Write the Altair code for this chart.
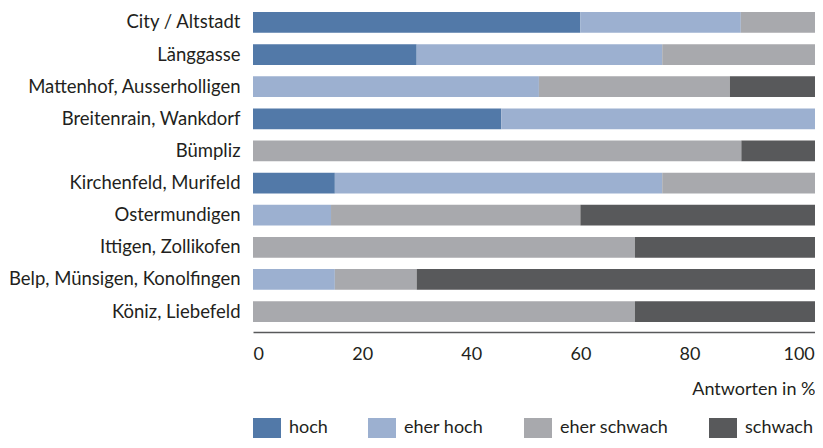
import altair as alt
import pandas as pd

districts = [
    "City / Altstadt",
    "Länggasse",
    "Mattenhof, Ausserholligen",
    "Breitenrain, Wankdorf",
    "Bümpliz",
    "Kirchenfeld, Murifeld",
    "Ostermundigen",
    "Ittigen, Zollikofen",
    "Belp, Münsigen, Konolfingen",
    "Köniz, Liebefeld",
]
categories = ["hoch", "eher hoch", "eher schwach", "schwach"]
colors = ["#5279A8", "#9CB0D0", "#A8A9AD", "#58595B"]

hoch = [60, 30, 0, 45.5, 0, 15, 0, 0, 0, 0]
eher_hoch = [29.4, 45, 52.4, 57.5, 0, 60, 14.3, 0, 15, 0]
eher_schwach = [13.6, 28, 35, 0, 89.5, 28, 45.7, 70, 15, 70]
schwach = [0, 0, 15.6, 0, 13.5, 0, 43, 33, 73, 33]

tick_values = [0, 20, 40, 60, 80, 100]

series = [hoch, eher_hoch, eher_schwach, schwach]
rows = []
for ci, (cat, vals) in enumerate(zip(categories, series)):
    for d, v in zip(districts, vals):
        rows.append({"district": d, "category": cat, "idx": ci, "value": v})
df = pd.DataFrame(rows)

FONT = "Lato"
TXT = "#231F20"

chart = (
    alt.Chart(df)
    .mark_bar()
    .encode(
        y=alt.Y(
            "district:N",
            sort=districts,
            scale=alt.Scale(paddingInner=0.355, paddingOuter=0.125),
            axis=alt.Axis(
                title=None,
                domain=False,
                ticks=False,
                labelPadding=13,
                labelFontSize=18.5,
                labelFont=FONT,
                labelColor=TXT,
                minExtent=245,
                maxExtent=245,
                labelLimit=300,
            ),
        ),
        x=alt.X(
            "value:Q",
            stack="zero",
            scale=alt.Scale(domain=[0, 103], nice=False),
            axis=alt.Axis(
                values=tick_values,
                title="Antworten in %",
                titleAnchor="end",
                titleFont=FONT,
                titleFontSize=18,
                titleFontWeight="normal",
                titleColor=TXT,
                titlePadding=17,
                ticks=False,
                grid=False,
                domainColor="#58595B",
                domainWidth=1.5,
                offset=6,
                labelPadding=13,
                labelFont=FONT,
                labelFontSize=18,
                labelColor=TXT,
                labelAlign=alt.expr("datum.value == 0 ? 'left' : 'center'"),
            ),
        ),
        color=alt.Color(
            "category:N",
            scale=alt.Scale(domain=categories, range=colors),
            legend=alt.Legend(
                title=None,
                orient="none",
                direction="horizontal",
                legendX=0,
                legendY=406,
                symbolType="M-1,-0.714L1,-0.714L1,0.714L-1,0.714Z",
                symbolSize=784,
                symbolStrokeWidth=0,
                symbolOpacity=1,
                labelFont=FONT,
                labelFontSize=18,
                labelColor=TXT,
                labelOffset=8,
                columnPadding=40,
                labelLimit=300,
            ),
        ),
        order=alt.Order("idx:Q"),
    )
    .properties(
        width=562,
        height=318,
        padding={"left": 0, "top": 0, "right": 0, "bottom": 0},
    )
    .configure_view(stroke=None)
)

chart.save("out.html", embed_options={"renderer": "svg", "actions": False})
